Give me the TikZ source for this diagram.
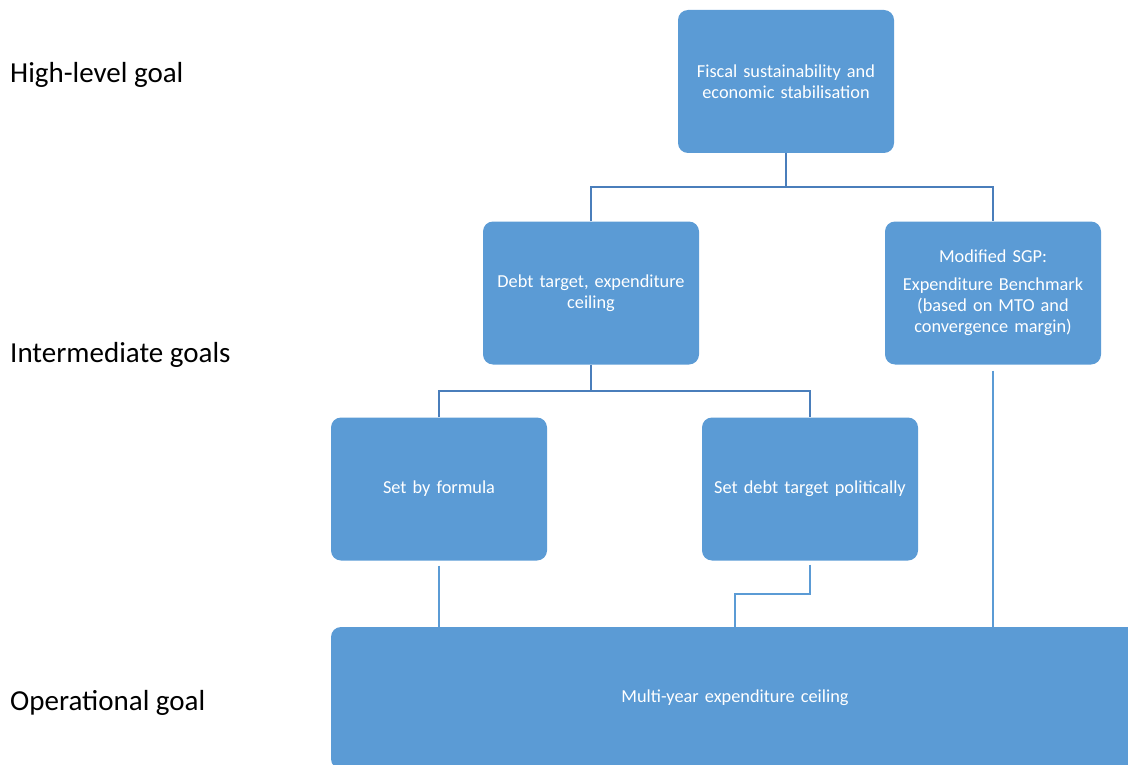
\documentclass[tikz,border=0pt]{standalone}
\usepackage{fontspec}
\setmainfont{Carlito}
\definecolor{boxblue}{HTML}{5B9BD5}
\definecolor{lineblue}{HTML}{4A7EBB}

\begin{document}
\begin{tikzpicture}[x=1pt,y=-1pt,
    goalbox/.style={fill=boxblue,rounded corners=10pt,text=white,align=center,
        minimum width=216pt,minimum height=143pt,inner sep=0pt,text width=200pt,font=\fontsize{18.3}{21}\selectfont},
    level/.style={anchor=west,inner sep=0pt,font=\fontsize{29}{33}\selectfont},
    tree/.style={lineblue,line width=2.6pt},
    link/.style={boxblue,line width=2.6pt}]
    \useasboundingbox (0,0) rectangle (1128,765);
    \clip (0,0) rectangle (1128,765);

    % Ebenen
    \node[level] (high) at (10,75) {High-level goal};
    \node[level] (inter) at (10,355) {Intermediate goals};
    \node[level] (oper) at (10,703) {Operational goal};

    % Kaesten
    \node[goalbox] (goal) at (786,81.5) {Fiscal sustainability and\\economic stabilisation};
    \node[goalbox] (debt) at (591,293) {Debt target, expenditure\\ceiling};
    \node[goalbox] (sgp) at (993,293) {Modified SGP:\\[7pt]Expenditure Benchmark\\(based on MTO and\\convergence margin)};
    \node[goalbox] (formula) at (439,489) {Set by formula};
    \node[goalbox] (political) at (810,489) {Set debt target politically};
    \node[goalbox,minimum width=808pt,minimum height=142pt,text width=700pt] (ceiling) at (735,698) {Multi-year expenditure ceiling};

    % Verbindungen
    \coordinate (t1) at (786,187);
    \coordinate (t2) at (591,391);
    \coordinate (k1) at (735,594);
    \draw[tree] (goal.south) -- (t1);
    \draw[tree] (debt.north) |- (t1) -| (sgp.north);
    \draw[tree] (debt.south) -- (t2);
    \draw[tree] (formula.north) |- (t2) -| (political.north);
    \draw[link,shorten <=5pt] (formula.south) -- (formula.south |- ceiling.north);
    \draw[link,shorten <=4pt] (political.south) |- (k1) -- (k1 |- ceiling.north);
    \draw[link,shorten <=6pt] (sgp.south) -- (sgp.south |- ceiling.north);
\end{tikzpicture}
\end{document}
